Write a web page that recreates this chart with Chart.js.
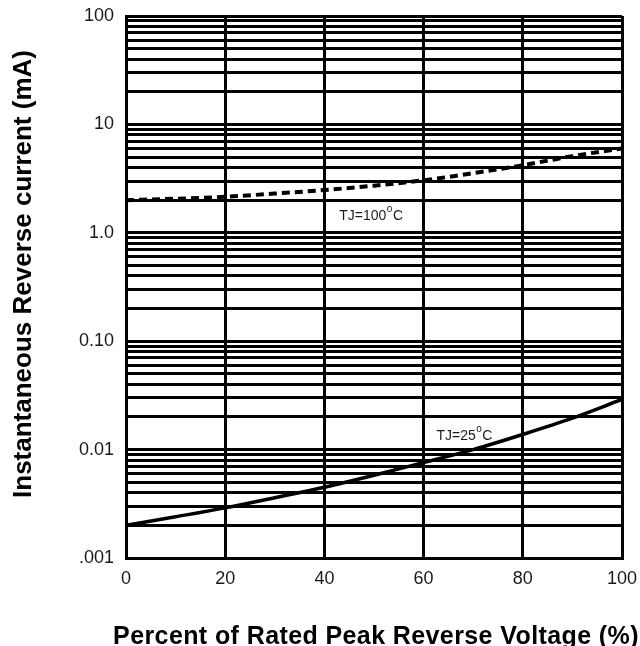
<!DOCTYPE html>
<html><head><meta charset="utf-8">
<script src="https://cdn.jsdelivr.net/npm/chart.js@4/dist/chart.umd.min.js"></script>
<style>html,body{margin:0;padding:0;background:#fff}#wrap{width:640px;height:646px}</style>
</head><body><div id="wrap"><canvas id="c" width="640" height="646"></canvas></div>
<script>
const voltagePct = [0,10,20,30,40,50,60,70,80,90,100];
const current100C = [2.0,2.06,2.15,2.3,2.48,2.72,3.05,3.55,4.2,5.1,6.0];
const current25C = [0.002,0.0024,0.0029,0.0036,0.0045,0.0058,0.0076,0.0100,0.0138,0.0195,0.029];
const xTicks = [0,20,40,60,80,100];
const yDecades = [0.001,0.01,0.1,1,10,100];
const yDecadeLabels = ['.001','0.01','0.10','1.0','10','100'];
const seriesNames = ['TJ=100', 'TJ=25'];
const yTitle = 'Instantaneous Reverse current (mA)';
const xTitle = 'Percent of Rated Peak Reverse Voltage (%)';
const FONT = '"Liberation Sans", Arial, sans-serif';

const yGrid = [];
for (let d = 0; d < yDecades.length; d++) {
  for (let m = 1; m <= 9; m++) {
    const v = +(yDecades[d]*m).toPrecision(3);
    if (v <= 100) yGrid.push(v);
  }
}

const labelPlugin = {
  id: 'tjLabels',
  afterDatasetsDraw(chart) {
    const {ctx, scales:{x, y}} = chart;
    const notes = [
      {name: seriesNames[0], x: 43, y: 1.41},
      {name: seriesNames[1], x: 62.6, y: 0.0133}
    ];
    ctx.save();
    ctx.fillStyle = '#1a1a2a';
    ctx.textBaseline = 'middle';
    notes.forEach(n => {
      const px = x.getPixelForValue(n.x), py = y.getPixelForValue(n.y);
      ctx.font = '14px ' + FONT;
      ctx.fillText(n.name, px, py);
      let w = ctx.measureText(n.name).width;
      ctx.font = '10px ' + FONT;
      ctx.fillText('o', px + w + 0.5, py - 7);
      w += ctx.measureText('o').width + 1;
      ctx.font = '14px ' + FONT;
      ctx.fillText('C', px + w, py);
    });
    ctx.restore();
    // axis titles
    ctx.save();
    ctx.fillStyle = '#000';
    ctx.font = 'bold 25px ' + FONT;
    ctx.textAlign = 'center';
    ctx.textBaseline = 'alphabetic';
    try { ctx.letterSpacing = '0.4px'; } catch (e) {}
    ctx.fillText(xTitle, 376, 644);
    ctx.restore();
    ctx.save();
    ctx.fillStyle = '#000';
    ctx.font = 'bold 26px ' + FONT;
    ctx.textAlign = 'center';
    ctx.textBaseline = 'alphabetic';
    ctx.translate(31, 274);
    ctx.rotate(-Math.PI/2);
    ctx.fillText(yTitle, 0, 0);
    ctx.restore();
  }
};

new Chart(document.getElementById('c'), {
  type: 'line',
  data: {
    datasets: [
      {label: seriesNames[0], data: voltagePct.map((v,i)=>({x:v,y:current100C[i]})),
       borderColor:'#000', borderWidth:4, borderDash:[8,5], pointRadius:0, cubicInterpolationMode:'monotone', fill:false},
      {label: seriesNames[1], data: voltagePct.map((v,i)=>({x:v,y:current25C[i]})),
       borderColor:'#000', borderWidth:3.5, pointRadius:0, cubicInterpolationMode:'monotone', fill:false}
    ]
  },
  options: {
    responsive:false, animation:false, devicePixelRatio:1,
    layout:{padding:{left:0,right:18,top:16,bottom:0}},
    plugins:{legend:{display:false}, tooltip:{enabled:false}},
    scales:{
      x:{type:'linear', min:0, max:100,
        afterBuildTicks: s => { s.ticks = xTicks.map(v=>({value:v})); },
        afterFit: s => { s.height = 88; s.paddingLeft = 0; s.paddingRight = 0; },
        grid:{color:'#000', lineWidth:3, drawTicks:false},
        border:{display:true, color:'#000', width:3},
        ticks:{padding:10, color:'#1a1a1a', font:{family:FONT, size:18}},
        title:{display:false}
      },
      y:{type:'logarithmic', min:0.001, max:100,
        afterBuildTicks: s => { s.ticks = yGrid.map(v=>({value:v})); },
        afterFit: s => { s.width = 126; s.paddingTop = 0; s.paddingBottom = 0; },
        grid:{color:'#000', lineWidth:3, drawTicks:false},
        border:{display:true, color:'#000', width:3},
        ticks:{padding:12, autoSkip:false, color:'#1a1a1a', font:{family:FONT, size:18},
          callback: (v) => { const i = yDecades.findIndex(d => Math.abs(d - v) < d*1e-6); return i >= 0 ? yDecadeLabels[i] : ''; }},
        title:{display:false}
      }
    }
  },
  plugins:[labelPlugin]
});
</script>
</body></html>
